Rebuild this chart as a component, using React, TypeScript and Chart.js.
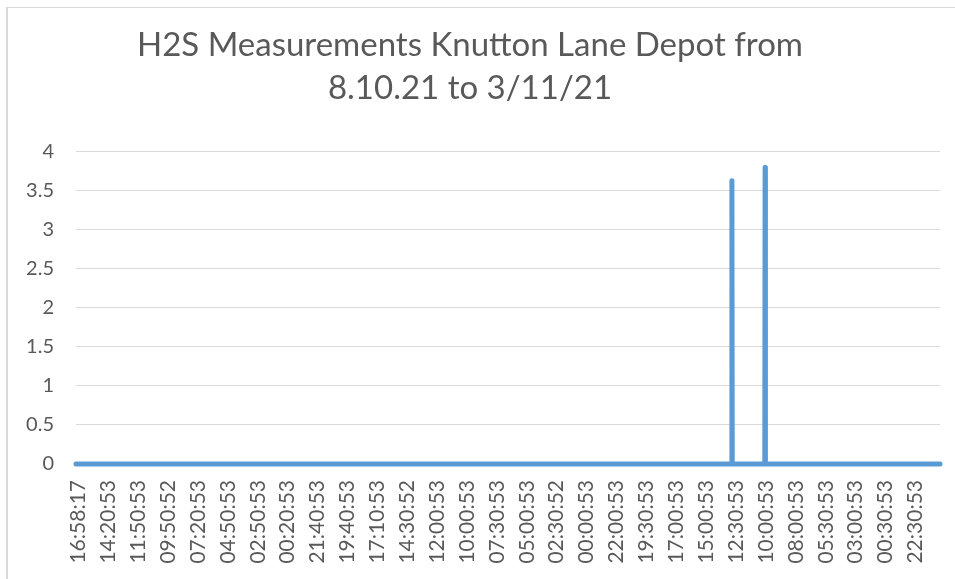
import React, { useEffect, useRef } from "react";
import { Chart, registerables } from "chart.js";

Chart.register(...registerables);

const titleLines = ["H2S Measurements Knutton Lane Depot from", "8.10.21 to 3/11/21"];

const tickLabels = [
  "16:58:17", "14:20:53", "11:50:53", "09:50:52", "07:20:53", "04:50:53",
  "02:50:53", "00:20:53", "21:40:53", "19:40:53", "17:10:53", "14:30:52",
  "12:00:53", "10:00:53", "07:30:53", "05:00:53", "02:30:52", "00:00:53",
  "22:00:53", "19:30:53", "17:00:53", "15:00:53", "12:30:53", "10:00:53",
  "08:00:53", "05:30:53", "03:00:53", "00:30:53", "22:30:53",
];

// sample positions (reading index) and H2S values (ppm)
const sampleIndex = [0, 2193, 2194, 2195, 2304, 2305, 2306, 2890];
const h2sValues = [0, 0, 3.63, 0, 0, 3.8, 0, 0];

const firstLabelSample = 8;
const samplesPerLabel = 100;
const lastSample = 2890;

const yTicks = [0, 0.5, 1, 1.5, 2, 2.5, 3, 3.5, 4];

const FONT = "Lato, 'Open Sans', sans-serif";

export default function App() {
  const ref = useRef<HTMLCanvasElement | null>(null);

  useEffect(() => {
    const canvas = ref.current;
    if (!canvas) return;
    const points = sampleIndex.map((x, i) => ({ x, y: h2sValues[i] }));
    const chart = new Chart(canvas, {
      type: "line",
      data: {
        datasets: [
          {
            label: "H2S",
            data: points,
            borderColor: "#5b9bd5",
            backgroundColor: "#5b9bd5",
            borderWidth: 5,
            borderCapStyle: "round",
            borderJoinStyle: "round",
            pointRadius: 0,
            tension: 0,
            clip: false,
          },
        ],
      },
      options: {
        animation: false,
        responsive: false,
        maintainAspectRatio: false,
        layout: { padding: { left: 0, right: 15, top: 0, bottom: 0 } },
        plugins: {
          legend: { display: false },
          tooltip: { enabled: false },
          title: {
            display: true,
            text: titleLines,
            color: "#595959",
            font: { family: FONT, size: 33, weight: "normal", lineHeight: 1.33 },
            padding: { top: 23, bottom: 41 },
          },
        },
        scales: {
          x: {
            type: "linear",
            min: 0,
            max: lastSample,
            grid: { display: false },
            border: { display: false },
            afterBuildTicks: (scale: any) => {
              scale.ticks = tickLabels.map((_, i) => ({ value: firstLabelSample + i * samplesPerLabel }));
            },
            afterFit: (scale: any) => {
              scale.height = 115;
            },
            ticks: {
              autoSkip: false,
              maxRotation: 90,
              minRotation: 90,
              padding: 8,
              color: "#595959",
              font: { family: FONT, size: 21 },
              callback: (value: any) => {
                const i = Math.round((Number(value) - firstLabelSample) / samplesPerLabel);
                return tickLabels[i] ?? "";
              },
            },
          },
          y: {
            min: 0,
            max: 4,
            afterBuildTicks: (scale: any) => {
              scale.ticks = yTicks.map((v) => ({ value: v }));
            },
            afterFit: (scale: any) => {
              scale.width = 76;
            },
            grid: { color: "#d9d9d9", lineWidth: 1, drawTicks: false },
            border: { display: false },
            ticks: {
              padding: 22,
              color: "#595959",
              font: { family: FONT, size: 20 },
              callback: (value: any) => String(value),
            },
          },
        },
      },
    });
    return () => chart.destroy();
  }, []);

  return (
    <div style={{ position: "fixed", left: 0, top: 0, width: 955, height: 579, overflow: "hidden", background: "#fff" }}>
      <div
        style={{
          position: "absolute",
          left: 6,
          top: 7,
          width: 1200,
          height: 1200,
          borderTop: "1px solid #d9d9d9",
          borderLeft: "2px solid #d9d9d9",
        }}
      />
      <canvas ref={ref} width={955} height={579} style={{ position: "absolute", left: 0, top: 0, width: 955, height: 579 }} />
    </div>
  );
}
